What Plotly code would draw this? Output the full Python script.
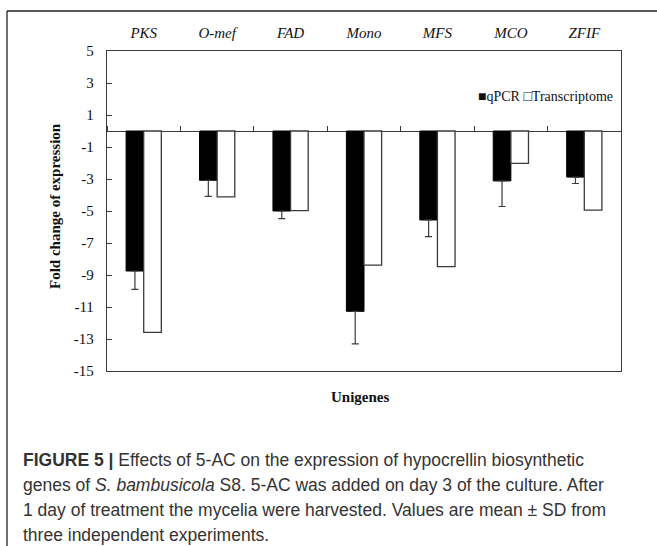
import plotly.graph_objects as go

categories = ["PKS", "O-mef", "FAD", "Mono", "MFS", "MCO", "ZFIF"]
qpcr = [-8.75, -3.08, -5.0, -11.27, -5.56, -3.12, -2.88]
qpcr_sd = [1.15, 1.0, 0.48, 2.04, 1.04, 1.6, 0.4]
transcriptome = [-12.58, -4.12, -4.98, -8.38, -8.48, -2.02, -4.94]
ytick_vals = [5, 3, 1, -1, -3, -5, -7, -9, -11, -13, -15]
ytick_text = [str(v) for v in ytick_vals]

W, H = 657, 546
L, R, T, B = 107, 36, 51, 175
PW, PH = W - L - R, H - T - B


def px_x(px):
    return (px - L) / PW


def px_y(py):
    return (H - B - py) / PH


AX = "#3a3a3a"
SERIF = "Liberation Serif"

fig = go.Figure()
fig.add_trace(go.Bar(
    x=categories, y=qpcr, name="qPCR",
    marker=dict(color="black", line=dict(color="black", width=1)),
    error_y=dict(type="data", symmetric=False, array=[0] * len(qpcr),
                 arrayminus=qpcr_sd, color=AX, thickness=1.2, width=3.5),
))
fig.add_trace(go.Bar(
    x=categories, y=transcriptome, name="Transcriptome",
    marker=dict(color="white", line=dict(color=AX, width=1.3)),
))
# helper trace for boundary ticks on the zero line
fig.add_trace(go.Scatter(x=categories, y=[None] * len(categories), xaxis="x2",
                         showlegend=False, hoverinfo="skip", mode="markers"))

fig.update_layout(
    width=W, height=H,
    margin=dict(l=L, r=R, t=T, b=B, pad=0),
    paper_bgcolor="white", plot_bgcolor="white",
    barmode="group", bargap=0.52, bargroupgap=0,
    showlegend=False,
    font=dict(family=SERIF, color="#111"),
    xaxis=dict(
        type="category", categoryorder="array", categoryarray=categories,
        side="top", showline=True, mirror=True, linecolor=AX, linewidth=1.3,
        ticks="", showgrid=False, zeroline=False,
        tickfont=dict(family=SERIF, size=15, style="italic", color="#111"),
        ticklabelstandoff=6,
    ),
    xaxis2=dict(
        type="category", categoryorder="array", categoryarray=categories,
        matches="x", overlaying="x", anchor="free", position=0.75, side="top",
        showline=False, ticks="outside", tickson="boundaries", ticklen=5,
        tickcolor=AX, tickwidth=1.2, showticklabels=False, showgrid=False,
        zeroline=False,
    ),
    yaxis=dict(
        range=[-15, 5], tickvals=ytick_vals, ticktext=ytick_text,
        ticks="inside", ticklen=5, tickcolor=AX, tickwidth=1.2,
        showline=True, mirror=True, linecolor=AX, linewidth=1.3,
        showgrid=False, zeroline=True, zerolinecolor=AX, zerolinewidth=1.3,
        tickfont=dict(family=SERIF, size=15, color="#111"),
        ticklabelstandoff=9,
    ),
)

# outer frame of the figure panel
fig.add_shape(type="line", xref="paper", yref="paper",
              x0=px_x(7), x1=px_x(7), y0=px_y(11), y1=px_y(600),
              line=dict(color="#222", width=1.3))
fig.add_shape(type="line", xref="paper", yref="paper",
              x0=px_x(7), x1=px_x(700), y0=px_y(11), y1=px_y(11),
              line=dict(color="#222", width=1.3))

# axis titles
fig.add_annotation(text="<b>Fold change of expression</b>", xref="paper", yref="paper",
                   x=px_x(55), y=px_y(206), xanchor="center", yanchor="middle",
                   textangle=-90, showarrow=False,
                   font=dict(family=SERIF, size=15, color="#111"))
fig.add_annotation(text="<b>Unigenes</b>", xref="paper", yref="paper",
                   x=px_x(360), y=px_y(397), xanchor="center", yanchor="middle",
                   showarrow=False,
                   font=dict(family=SERIF, size=15, color="#111"))

# legend
fig.add_annotation(text="■qPCR □Transcriptome", xref="paper", yref="paper",
                   x=px_x(615), y=px_y(96), xanchor="right", yanchor="middle",
                   showarrow=False,
                   font=dict(family=SERIF, size=14, color="#111"))

# caption
caption = [
    "<b>FIGURE 5 |</b> Effects of 5-AC on the expression of hypocrellin biosynthetic",
    "genes of <i>S. bambusicola</i> S8. 5-AC was added on day 3 of the culture. After",
    "1 day of treatment the mycelia were harvested. Values are mean ± SD from",
    "three independent experiments.",
]
for i, line in enumerate(caption):
    fig.add_annotation(text=line, xref="paper", yref="paper",
                       x=px_x(21), y=px_y(459.5 + 25 * i), xanchor="left",
                       yanchor="middle", showarrow=False,
                       font=dict(family="Liberation Sans", size=17.5, color="#333"))

fig.write_html("out.html")
